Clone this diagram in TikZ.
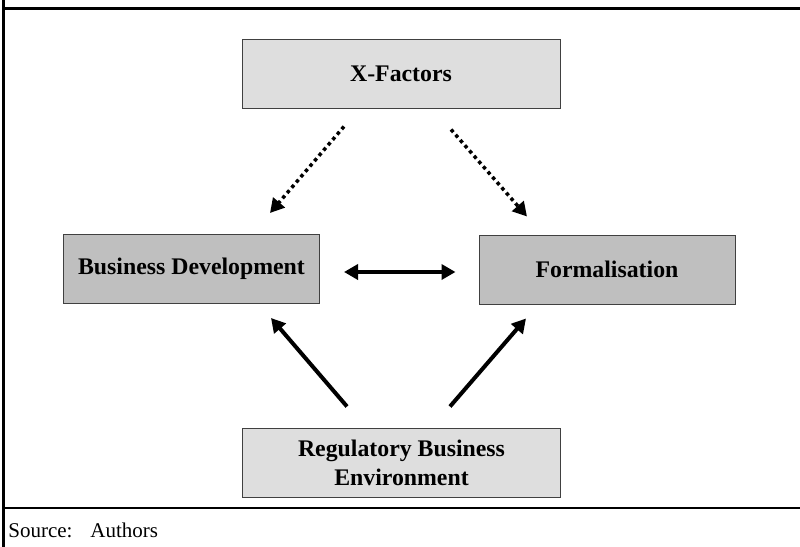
\documentclass[tikz,border=0pt]{standalone}
\usepackage{fontspec}
\setmainfont{Liberation Serif}
\usetikzlibrary{arrows.meta}
\begin{document}
\begin{tikzpicture}[x=0.5pt, y=-0.5pt,
        box/.style = {draw = black!75, line width = 0.5pt, minimum height = 34.5pt,
            inner sep = 0pt, align = center,
            font = \bfseries\fontsize{11.9}{14.5}\selectfont},
        lightbox/.style = {box, fill = black!13, minimum width = 159pt},
        darkbox/.style = {box, fill = black!25, minimum width = 128pt},
        dotarrow/.style = {line width = 1.75pt, dash pattern = on 1.75pt off 1.75pt,
            -{Triangle[length = 7pt, width = 7.5pt]}},
        solidarrow/.style = {line width = 2pt, -{Triangle[length = 7pt, width = 7.5pt]}},
        twoarrow/.style = {line width = 2pt,
            {Triangle[length = 7pt, width = 7.5pt]}-{Triangle[length = 7pt, width = 7.5pt]}},
        srctext/.style = {anchor = base west, inner sep = 0pt, font = \fontsize{10.5}{12}\selectfont}
        ]
        \useasboundingbox (0,0) rectangle (800,547);
        % frame
        \draw[line width = 1pt] (3.5,0) -- (3.5,547);
        \draw[line width = 1.2pt] (3.5,8.5) -- (800,8.5);
        \draw[line width = 1.2pt] (3.5,508) -- (800,508);
        % boxes
        \node[lightbox] (xf) at (401,73.5) {X-Factors};
        \node[darkbox] (bd) at (191.5,269) {Business Development};
        \node[darkbox] (fm) at (607,269.5) {Formalisation};
        \node[lightbox] (rbe) at (401.5,462.5) {Regulatory Business\\Environment};
        % arrows
        \draw[dotarrow] ([xshift = -28.5pt, yshift = -9pt]xf.south)
            -- ([xshift = 39.25pt, yshift = 10.5pt]bd.north);
        \draw[dotarrow] ([xshift = 25pt, yshift = -10.5pt]xf.south)
            -- ([xshift = -40pt, yshift = 9pt]fm.north);
        \draw[twoarrow, shorten < = 12pt, shorten > = 11.5pt]
            ([yshift = -1.5pt]bd.east) -- ([yshift = -1.25pt]fm.west);
        \draw[solidarrow] ([xshift = -27.25pt, yshift = 10.5pt]rbe.north)
            -- ([xshift = 39.75pt, yshift = -7pt]bd.south);
        \draw[solidarrow] ([xshift = 24.25pt, yshift = 10.5pt]rbe.north)
            -- ([xshift = -40.5pt, yshift = -7pt]fm.south);
        % source line
        \node[srctext] (src) at (8,537) {Source:};
        \node[srctext] (auth) at (90,537) {Authors};
\end{tikzpicture}
\end{document}
